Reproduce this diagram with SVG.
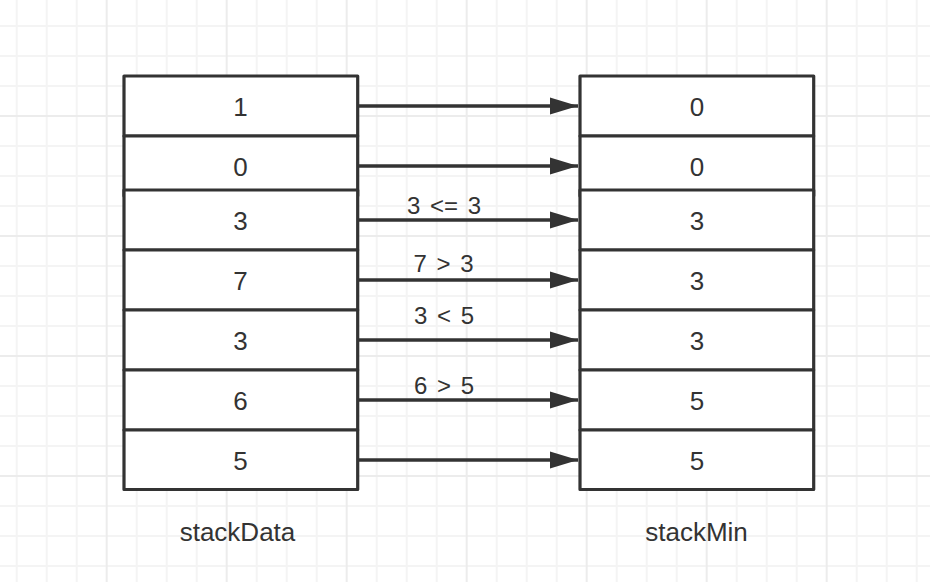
<svg xmlns="http://www.w3.org/2000/svg" width="930" height="582" viewBox="0 0 930 582">
  <defs>
    <pattern id="grid" patternUnits="userSpaceOnUse" x="105.7" y="115" width="120" height="120">
      <rect x="0" y="0" width="120" height="120" fill="#ffffff"/>
      <rect x="30" y="0" width="2" height="120" fill="#f4f4f4"/>
      <rect x="60" y="0" width="2" height="120" fill="#f4f4f4"/>
      <rect x="90" y="0" width="2" height="120" fill="#f4f4f4"/>
      <rect x="0" y="30" width="120" height="2" fill="#f4f4f4"/>
      <rect x="0" y="60" width="120" height="2" fill="#f4f4f4"/>
      <rect x="0" y="90" width="120" height="2" fill="#f4f4f4"/>
      <rect x="0" y="0" width="2" height="120" fill="#ececec"/>
      <rect x="0" y="0" width="120" height="2" fill="#ececec"/>
    </pattern>
    <marker id="arrow" markerUnits="userSpaceOnUse" markerWidth="30" markerHeight="20" refX="28" refY="9" orient="auto">
      <polygon points="0,0.5 28,9 0,17.5" fill="#333333"/>
    </marker>
  </defs>
  <style>
    .cell { fill: #ffffff; stroke: #333333; stroke-width: 3.2; stroke-linejoin: round; }
    .val { font-family: "Liberation Sans", Arial, sans-serif; font-size: 26px; fill: #333333; text-anchor: middle; }
    .lbl { font-family: "Liberation Sans", Arial, sans-serif; font-size: 24px; fill: #333333; text-anchor: middle; word-spacing: 3px; }
    .title { font-family: "Liberation Sans", Arial, sans-serif; font-size: 26px; fill: #333333; text-anchor: middle; }
    .edge { stroke: #333333; stroke-width: 3.4; fill: none; }
  </style>
  <rect x="0" y="0" width="930" height="582" fill="url(#grid)"/>

  <g id="stackData">
    <g id="d1"><rect class="cell" x="124" y="76" width="233.7" height="60"/><text class="val" x="240.5" y="116">1</text></g>
    <g id="d2"><rect class="cell" x="124" y="136" width="233.7" height="60"/><text class="val" x="240.5" y="176">0</text></g>
    <g id="d3"><rect class="cell" x="124" y="190" width="233.7" height="60"/><text class="val" x="240.5" y="230">3</text></g>
    <g id="d4"><rect class="cell" x="124" y="250" width="233.7" height="60"/><text class="val" x="240.5" y="290">7</text></g>
    <g id="d5"><rect class="cell" x="124" y="310" width="233.7" height="60"/><text class="val" x="240.5" y="350">3</text></g>
    <g id="d6"><rect class="cell" x="124" y="370" width="233.7" height="60"/><text class="val" x="240.5" y="410">6</text></g>
    <g id="d7"><rect class="cell" x="124" y="430" width="233.7" height="59.5"/><text class="val" x="240.5" y="470">5</text></g>
    <text id="stackDataTitle" class="title" x="237.5" y="540.5">stackData</text>
  </g>

  <g id="stackMin">
    <g id="m1"><rect class="cell" x="580" y="76" width="233.7" height="60"/><text class="val" x="697" y="116">0</text></g>
    <g id="m2"><rect class="cell" x="580" y="136" width="233.7" height="60"/><text class="val" x="697" y="176">0</text></g>
    <g id="m3"><rect class="cell" x="580" y="190" width="233.7" height="60"/><text class="val" x="697" y="230">3</text></g>
    <g id="m4"><rect class="cell" x="580" y="250" width="233.7" height="60"/><text class="val" x="697" y="290">3</text></g>
    <g id="m5"><rect class="cell" x="580" y="310" width="233.7" height="60"/><text class="val" x="697" y="350">3</text></g>
    <g id="m6"><rect class="cell" x="580" y="370" width="233.7" height="60"/><text class="val" x="697" y="410">5</text></g>
    <g id="m7"><rect class="cell" x="580" y="430" width="233.7" height="59.5"/><text class="val" x="697" y="470">5</text></g>
    <text id="stackMinTitle" class="title" x="696.5" y="540.5">stackMin</text>
  </g>

  <g id="connectors">
    <line class="edge" x1="358" y1="106" x2="578" y2="106" marker-end="url(#arrow)"/>
    <line class="edge" x1="358" y1="166" x2="578" y2="166" marker-end="url(#arrow)"/>
    <line class="edge" x1="358" y1="220" x2="578" y2="220" marker-end="url(#arrow)"/>
    <line class="edge" x1="358" y1="280" x2="578" y2="280" marker-end="url(#arrow)"/>
    <line class="edge" x1="358" y1="340" x2="578" y2="340" marker-end="url(#arrow)"/>
    <line class="edge" x1="358" y1="400" x2="578" y2="400" marker-end="url(#arrow)"/>
    <line class="edge" x1="358" y1="460" x2="578" y2="460" marker-end="url(#arrow)"/>
    <text class="lbl" x="444" y="213.5">3 &lt;= 3</text>
    <text class="lbl" x="443.5" y="272">7 &gt; 3</text>
    <text class="lbl" x="444" y="323.5">3 &lt; 5</text>
    <text class="lbl" x="444" y="393.5">6 &gt; 5</text>
  </g>
</svg>
